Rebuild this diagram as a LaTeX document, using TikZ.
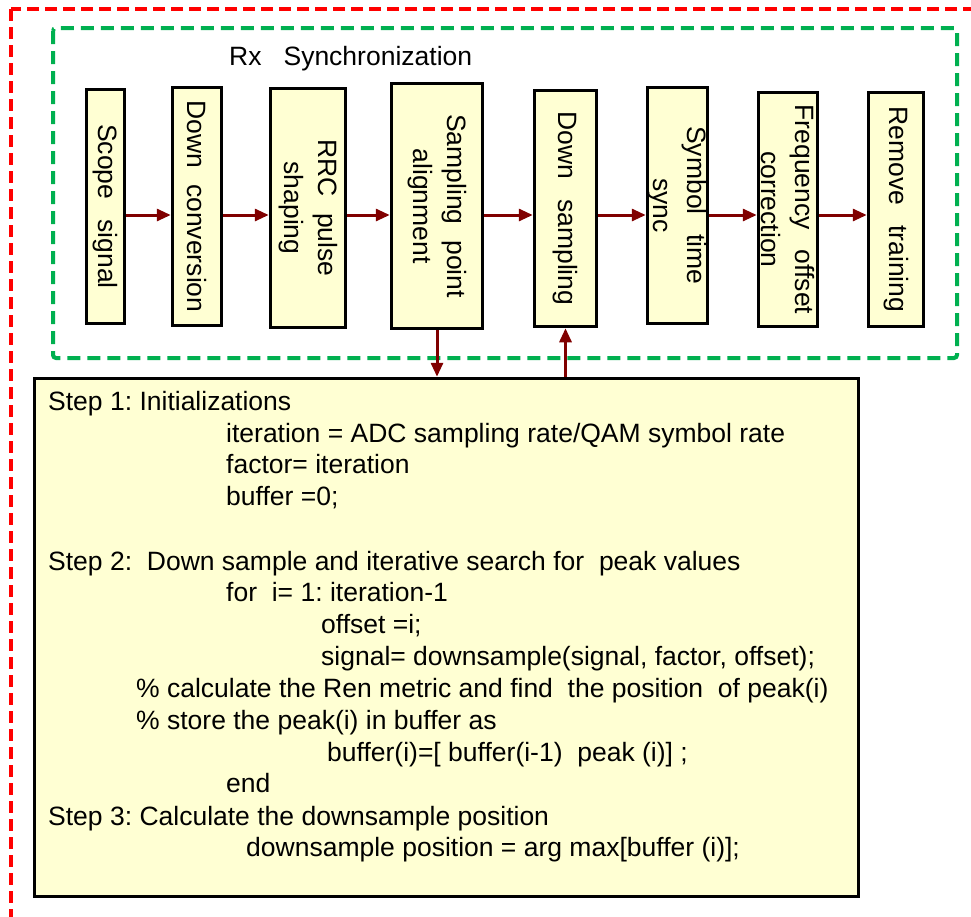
\documentclass[tikz,border=0pt]{standalone}
\usepackage{fontspec}
\setmainfont{Liberation Sans}
\usetikzlibrary{arrows.meta}
\definecolor{boxfill}{HTML}{FFFFD3}
\definecolor{arrowred}{HTML}{800000}
\definecolor{dashgreen}{HTML}{00B050}
\definecolor{dashred}{HTML}{FF0000}
\frenchspacing
\begin{document}
\begin{tikzpicture}[x=1pt,y=-1pt,
  block/.style={draw=black, line width=3.5pt, fill=boxfill, inner sep=0pt},
  lbl/.style={rotate=-90, align=center, inner sep=0pt, font=\fontsize{26.5}{34}\selectfont},
  arr/.style={draw=arrowred, line width=3pt, -{Triangle[length=14pt,width=12pt]}},
  code/.style={anchor=base west, inner sep=0pt, font=\fontsize{26.5}{31}\selectfont}]
\useasboundingbox (0,0) rectangle (971,916);
\clip (0,0) rectangle (971,916);

% outer (red) and synchronization (green) frames
\draw[dashred, line width=3.5pt, dash pattern=on 12pt off 6pt] (11,9) rectangle (1000,960);
\draw[dashgreen, line width=4pt, dash pattern=on 13pt off 7pt, rounded corners=3pt] (53,28) rectangle (957,358);
\node[code] (title) at (229,65) {Rx\hspace{22pt}Synchronization};

% processing chain
\node[block, minimum width=38pt, minimum height=234pt] (b1) at (105.5,206.5) {};
\node[block, minimum width=49pt, minimum height=238pt] (b2) at (197,206.5) {};
\node[block, minimum width=75pt, minimum height=239pt] (b3) at (308,208) {};
\node[block, minimum width=91pt, minimum height=245pt] (b4) at (437,206) {};
\node[block, minimum width=62pt, minimum height=236pt] (b5) at (565.5,208.5) {};
\node[block, minimum width=60pt, minimum height=236pt] (b6) at (677.5,205.5) {};
\node[block, minimum width=59pt, minimum height=234pt] (b7) at (788,209.5) {};
\node[block, minimum width=55pt, minimum height=234pt] (b8) at (896,209.5) {};

\node[lbl] (t1) at (b1) {Scope\hspace{20pt}signal};
\node[lbl] (t2) at (b2) {Down\hspace{16pt}conversion};
\node[lbl] (t3) at (b3) {RRC\hspace{16pt}pulse\\shaping};
\node[lbl] (t4) at (b4) {Sampling\hspace{16pt}point\\alignment};
\node[lbl] (t5) at (b5) {Down\hspace{20pt}sampling};
\node[lbl] (t6) at (b6) {Symbol\hspace{20pt}time\\sync};
\node[lbl] (t7) at (b7) {Frequency\hspace{20pt}offset\\correction};
\node[lbl] (t8) at (b8) {Remove\hspace{20pt}training};

\coordinate (lane) at (0,215);
\draw[arr] (b1.east |- lane) -- (b2.west |- lane);
\draw[arr] (b2.east |- lane) -- (b3.west |- lane);
\draw[arr] (b3.east |- lane) -- (b4.west |- lane);
\draw[arr] (b4.east |- lane) -- (b5.west |- lane);
\draw[arr] (b5.east |- lane) -- (b6.west |- lane);
\draw[arr] (b6.east |- lane) -- (b7.west |- lane);
\draw[arr] (b7.east |- lane) -- (b8.west |- lane);

% algorithm box
\node[block, minimum width=824pt, minimum height=518pt] (algo) at (446.5,637.5) {};
\draw[arr] (b4.south) -- (b4.south |- algo.north);
\draw[arr] (algo.north -| b5.south) -- (b5.south);

\node[code] (l1)  at (48,410)  {Step 1: Initializations};
\node[code] (l2)  at (226,442) {iteration = ADC sampling rate/QAM symbol rate};
\node[code] (l3)  at (226,473) {factor= iteration};
\node[code] (l4)  at (226,505) {buffer =0;};
\node[code] (l5)  at (48,570)  {Step 2:~ Down sample and iterative search for~ peak values};
\node[code] (l6)  at (226,601) {for~ i= 1: iteration-1};
\node[code] (l7)  at (321,633) {offset =i;};
\node[code] (l8)  at (321,665) {signal= downsample(signal, factor, offset);};
\node[code] (l9)  at (136,697) {\% calculate the Ren metric and find~ the position~ of peak(i)};
\node[code] (l10) at (136,729) {\% store the peak(i) in buffer as};
\node[code] (l11) at (327,761) {buffer(i)=[ buffer(i-1)~ peak (i)] ;};
\node[code] (l12) at (226,792) {end};
\node[code] (l13) at (48,825)  {Step 3: Calculate the downsample position};
\node[code] (l14) at (246,856) {downsample position = arg max[buffer (i)];};
\end{tikzpicture}
\end{document}
